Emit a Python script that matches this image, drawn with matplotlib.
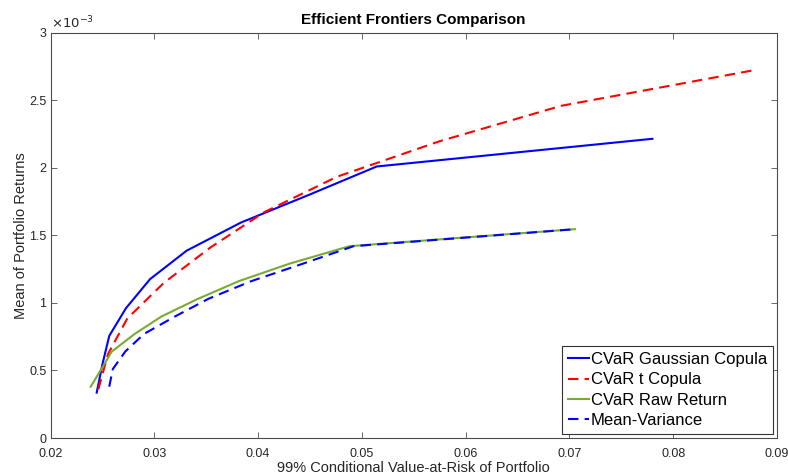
import numpy as np
import matplotlib
matplotlib.use("Agg")
import matplotlib.pyplot as plt
from matplotlib.ticker import FuncFormatter, MultipleLocator

plt.rcParams['font.family'] = ['Liberation Sans', 'DejaVu Sans']

# risk (99% CVaR) and mean return for each frontier
gauss_risk = [0.02445, 0.0250, 0.02566, 0.02727, 0.02959, 0.03312, 0.03835, 0.0449, 0.05143, 0.0780]
gauss_ret = [0.336e-3, 0.545e-3, 0.756e-3, 0.961e-3, 1.176e-3, 1.387e-3, 1.595e-3, 1.80e-3, 2.01e-3, 2.215e-3]

t_risk = [0.02461, 0.02555, 0.0274, 0.0309, 0.0354, 0.0406, 0.0476, 0.0575, 0.0692, 0.08765]
t_ret = [0.361e-3, 0.623e-3, 0.885e-3, 1.147e-3, 1.41e-3, 1.672e-3, 1.934e-3, 2.197e-3, 2.459e-3, 2.721e-3]

raw_risk = [0.02387, 0.0249, 0.0259, 0.0281, 0.0307, 0.0342, 0.0381, 0.0430, 0.0488, 0.07053]
raw_ret = [0.38e-3, 0.51e-3, 0.64e-3, 0.77e-3, 0.90e-3, 1.03e-3, 1.16e-3, 1.29e-3, 1.42e-3, 1.546e-3]

mv_risk = [0.02566, 0.0260, 0.0272, 0.0290, 0.0320, 0.0352, 0.0393, 0.0443, 0.0492, 0.07053]
mv_ret = [0.38e-3, 0.51e-3, 0.64e-3, 0.77e-3, 0.90e-3, 1.03e-3, 1.16e-3, 1.29e-3, 1.42e-3, 1.546e-3]

fig = plt.figure(figsize=(7.88, 4.74), dpi=100)
ax = fig.add_axes([0.0641, 0.0759, 0.9219, 0.855])

ax.plot(gauss_risk, gauss_ret, color='blue', lw=1.5, label='CVaR Gaussian Copula')
ax.plot(t_risk, t_ret, color='red', lw=1.5, ls=(0, (5, 3)), label='CVaR t Copula')
ax.plot(raw_risk, raw_ret, color='#77AC30', lw=1.5, label='CVaR Raw Return')
ax.plot(mv_risk, mv_ret, color='blue', lw=1.5, ls=(0, (5, 3)), label='Mean-Variance')

ax.set_xlim(0.02, 0.09)
ax.set_ylim(0, 3e-3)
ax.xaxis.set_major_locator(MultipleLocator(0.01))
ax.yaxis.set_major_locator(MultipleLocator(0.5e-3))
ax.xaxis.set_major_formatter(FuncFormatter(lambda v, p: '%.2f' % v))
ax.yaxis.set_major_formatter(FuncFormatter(lambda v, p: '%g' % round(v * 1e3, 3)))
ax.text(0.0, 1.003, r'$\times10^{-3}$', transform=ax.transAxes, fontsize=9.5,
        ha='left', va='bottom', color='#262626')

for s in ax.spines.values():
    s.set_color('#4d4d4d')
    s.set_linewidth(0.8)
ax.tick_params(direction='in', top=True, right=True, length=4, width=0.6,
               color='#4d4d4d', labelsize=9, labelcolor='#262626', pad=3)
ax.tick_params(axis='x', pad=7)

ax.set_title('Efficient Frontiers Comparison', fontsize=11, fontweight='bold', pad=6)
ax.set_xlabel('99% Conditional Value-at-Risk of Portfolio', fontsize=10.5, color='#262626', labelpad=1)
ax.set_ylabel('Mean of Portfolio Returns', fontsize=10.5, color='#262626', labelpad=1)

leg = ax.legend(loc='lower right', fontsize=12, handlelength=1.25, handletextpad=0.1,
                labelspacing=0.32, borderpad=0.35, borderaxespad=0.25, fancybox=False,
                framealpha=1, edgecolor='#333333')
leg.get_frame().set_linewidth(0.8)

fig.savefig('out.png', dpi=100)
